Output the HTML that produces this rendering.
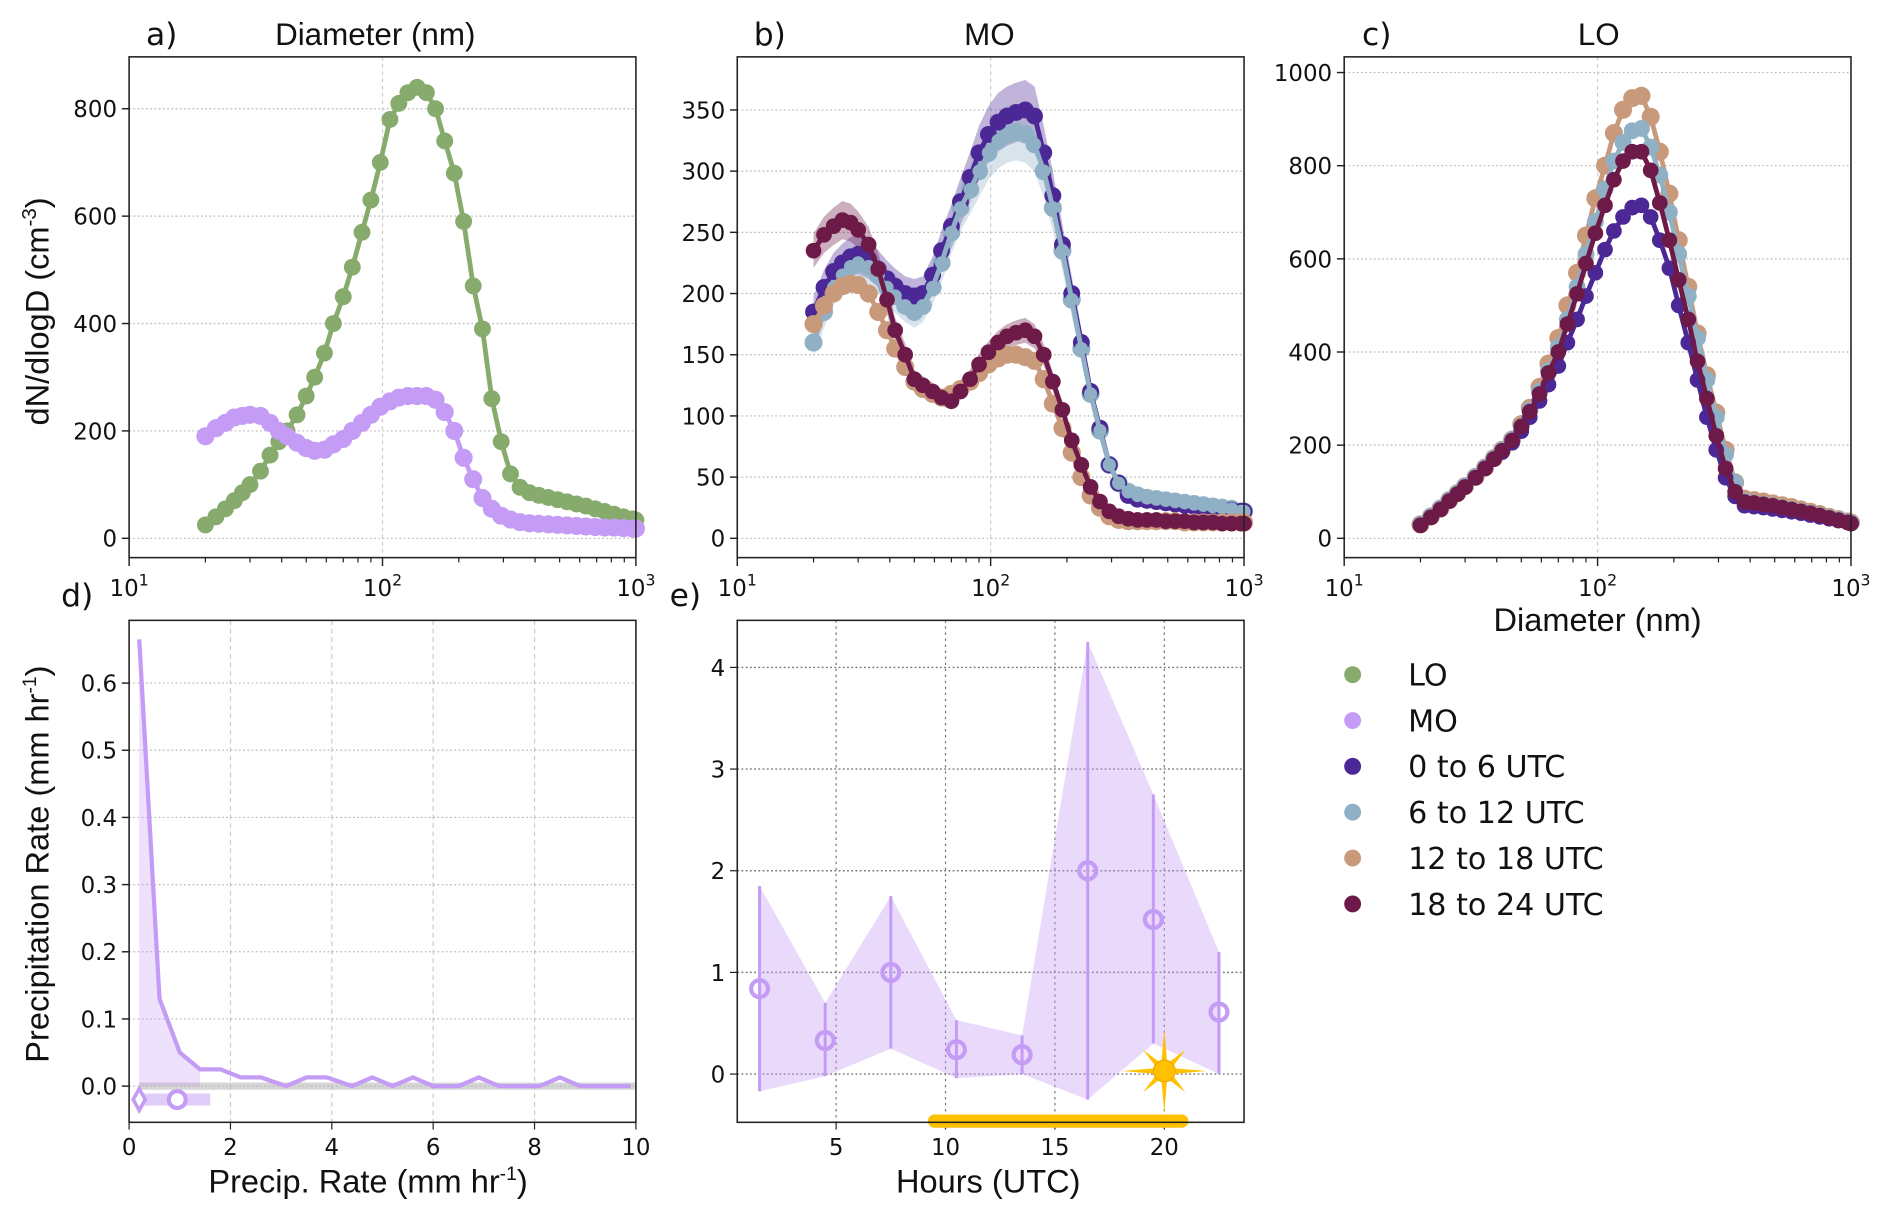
<!DOCTYPE html>
<html><head><meta charset="utf-8"><style>
html,body{margin:0;padding:0;background:#fff}
svg{display:block;font-family:"DejaVu Sans","Liberation Sans",sans-serif}
</style></head><body>
<svg id="fig" width="1892" height="1219" viewBox="0 0 1568 1010" xmlns="http://www.w3.org/2000/svg"></svg>
<script>
// ---------- data ----------
const diam = [20,22,24,26,28,30,33,36,39,42,46,50,54,59,64,70,76,83,90,98,107,116,126,137,149,162,176,192,209,228,248,270,294,320,349,380,414,451,491,535,583,635,691,753,820,893,973,1000];
const aLO = [25,40,55,70,85,100,125,155,180,200,230,265,300,345,400,450,505,570,630,700,780,810,830,840,830,800,740,680,590,470,390,260,180,120,95,85,80,76,72,68,64,60,55,50,45,40,36,34];
const aMO = [190,205,215,225,228,230,228,215,200,190,178,168,163,165,175,185,200,215,230,245,255,262,265,265,265,258,235,200,150,110,75,55,42,35,30,28,27,26,25,24,23,22,21,20,20,19,18,18];
const b06 = [185,205,218,225,230,232,228,220,212,206,200,198,200,215,235,255,275,295,315,330,340,345,348,350,345,315,280,240,200,160,120,90,60,45,35,32,31,30,29,28,27,26,25,24,23,23,22,22];
const b612 = [160,185,205,215,222,225,222,215,205,198,190,185,190,205,225,250,270,285,300,315,325,330,332,330,322,300,270,235,195,155,118,88,60,45,38,35,33,32,31,30,29,28,27,26,25,24,22,22];
const b1218 = [175,190,200,206,208,207,200,185,170,155,140,128,122,118,115,118,122,128,135,142,147,150,150,148,145,130,110,90,70,50,35,25,18,15,14,14,14,14,14,14,13,13,13,13,13,13,13,13];
const b1824 = [235,248,255,260,258,252,240,220,195,170,150,130,125,120,115,112,120,130,142,152,160,165,168,170,165,150,128,105,80,60,42,30,22,18,16,15,15,15,14,14,14,13,13,13,12,12,12,12];
const c06 = [28,45,62,80,95,110,130,150,170,185,205,230,260,295,330,370,420,470,520,570,620,660,690,710,715,690,640,580,500,420,340,260,190,130,90,70,68,66,63,60,57,54,50,46,42,38,34,32];
const c612 = [30,47,64,82,97,112,132,152,172,190,212,240,275,315,360,410,470,540,610,680,750,810,850,875,880,840,780,700,610,520,430,340,260,180,120,80,76,73,70,66,62,58,54,49,44,40,35,33];
const c1218 = [30,47,64,82,97,112,132,152,172,190,212,245,280,325,375,430,500,570,650,730,800,870,920,945,950,905,830,740,640,540,440,350,270,190,120,85,82,79,75,71,67,62,57,52,46,41,36,34];
const c1824 = [28,45,62,80,95,110,130,150,170,188,210,240,272,310,355,400,460,525,590,655,715,770,810,830,830,790,720,640,555,470,380,300,220,150,100,78,76,73,70,66,62,58,54,49,44,39,34,32];
const dX = [0.2,0.6,1.0,1.4,1.8,2.2,2.6,3.1,3.5,3.9,4.4,4.8,5.2,5.6,6.0,6.5,6.9,7.3,7.7,8.1,8.5,8.9,9.3,9.9];
const dY = [0.665,0.13,0.05,0.025,0.025,0.013,0.013,0.0,0.013,0.013,0.0,0.013,0.0,0.013,0.0,0.0,0.013,0.0,0.0,0.0,0.013,0.0,0.0,0.0];
const eHours = [1.5,4.5,7.5,10.5,13.5,16.5,19.5,22.5];
const eMean = [0.84,0.33,1.0,0.24,0.19,2.0,1.52,0.61];
const eUpper = [1.85,0.7,1.75,0.53,0.38,4.25,2.75,1.2];
const eLower = [-0.17,-0.02,0.25,-0.04,0.0,-0.25,0.3,0.0];
const aTicks = [0,200,400,600,800];
const bTicks = [0,50,100,150,200,250,300,350];
const cTicks = [0,200,400,600,800,1000];
const dYTicks = ['0.0','0.1','0.2','0.3','0.4','0.5','0.6'];
const dXTicks = [0,2,4,6,8,10];
const eYTicks = [0,1,2,3,4];
const eXTicks = [5,10,15,20];

const NS='http://www.w3.org/2000/svg';
const svg=document.getElementById('fig');
function mk(tag,attrs,parent){const e=document.createElementNS(NS,tag);for(const k in attrs)e.setAttribute(k,attrs[k]);(parent||svg).appendChild(e);return e;}
function txt(s,x,y,size,anchor,parent,extra){const t=mk('text',Object.assign({x:x,y:y,'font-size':size,'text-anchor':anchor||'middle',fill:'#111'},extra||{}),parent);t.textContent=s;return t;}

const P={a:{x0:107,x1:527,y0:47,y1:462},b:{x0:611,x1:1031,y0:47,y1:462},c:{x0:1114,x1:1534,y0:47,y1:462},d:{x0:107,x1:527,y0:514,y1:930},e:{x0:611,x1:1031,y0:514,y1:930}};
function logX(p){return d=>p.x0+(Math.log10(d)-1)*(p.x1-p.x0)/2;}
function linY(p,v0px,unit){return v=>v0px-v*unit;}

function logAxis(p,g){
  const sx=logX(p);
  for(let dec=1;dec<3;dec++)for(let m=2;m<10;m++){const x=sx(m*Math.pow(10,dec));mk('line',{x1:x,x2:x,y1:p.y1,y2:p.y1+4,stroke:'#222','stroke-width':1},g);}
  [10,100,1000].forEach((v,i)=>{const x=sx(v);
    if(i==1)mk('line',{x1:x,x2:x,y1:p.y0,y2:p.y1,stroke:'#ccc','stroke-width':1,'stroke-dasharray':'3,3'},g);
    mk('line',{x1:x,x2:x,y1:p.y1,y2:p.y1+7,stroke:'#222','stroke-width':1.2},g);
    const t=txt('10',x,p.y1+32,19,'middle',g);const s=mk('tspan',{dy:-9,'font-size':13},t);s.textContent=String(i+1);});
}
function yAxis(p,g,ticks,sy,labels){
  ticks.forEach((v,i)=>{const y=sy(+v);
    mk('line',{x1:p.x0,x2:p.x1,y1:y,y2:y,stroke:'#bbb','stroke-width':1,'stroke-dasharray':'1.5,2'},g);
    mk('line',{x1:p.x0-6,x2:p.x0,y1:y,y2:y,stroke:'#222','stroke-width':1.2},g);
    txt(labels?labels[i]:String(v),p.x0-10,y+7,19,'end',g);});
}
function frame(p,g){mk('rect',{x:p.x0,y:p.y0,width:p.x1-p.x0,height:p.y1-p.y0,fill:'none',stroke:'#222','stroke-width':1.3},g);}
function series(g,xs,ys,sx,sy,color,r,name){
  const s=mk('g',{},g);
  
  
  const pts=xs.map((x,i)=>sx(x).toFixed(1)+','+sy(ys[i]).toFixed(1)).join(' ');
  mk('polyline',{points:pts,fill:'none',stroke:color,'stroke-width':4},s);
  xs.forEach((x,i)=>{const c=mk('circle',{cx:sx(x),cy:sy(ys[i]),r:r,fill:color},s);
    
    });
}
function band(g,xs,ys,sx,sy,color,frac){
  const up=xs.map((x,i)=>sx(x)+','+sy(ys[i]*(1+frac))).join(' ');
  const lo=xs.map((x,i)=>sx(x)+','+sy(ys[i]*(1-frac))).reverse().join(' ');
  mk('polygon',{points:up+' '+lo,fill:color,opacity:0.35},g);
}

// ---- panel a ----
(function(){const p=P.a;const g=mk('g',{});
 
 
 const sx=logX(p),sy=linY(p,446,0.445);
 yAxis(p,g,aTicks,sy);logAxis(p,g);
 series(g,diam,aLO,sx,sy,'#86ab6d',7,'lo-series');
 series(g,diam,aMO,sx,sy,'#c49cf5',7.5,'mo-series');
 frame(p,g);
 txt('a)',134,37,26,'middle',g);txt('Diameter (nm)',311,37,26,'middle',g,{'font-family':'Liberation Sans, sans-serif'});
 const yl=txt('dN/dlogD (cm',0,0,27,'middle',g,{transform:'translate(40,258) rotate(-90)','font-family':'Liberation Sans, sans-serif'});
 const s1=mk('tspan',{dy:-10,'font-size':17},yl);s1.textContent='-3';const s2=mk('tspan',{dy:10},yl);s2.textContent=')';
})();

// ---- panel b ----
(function(){const p=P.b;const g=mk('g',{});
 
 
 const sx=logX(p),sy=linY(p,446,1.0143);
 yAxis(p,g,bTicks,sy);logAxis(p,g);
 band(g,diam,b06,sx,sy,'#4b2896',0.07);band(g,diam,b612,sx,sy,'#8fb0c5',0.07);band(g,diam,b1824,sx,sy,'#6e1a48',0.06);
 series(g,diam,b612,sx,sy,'#8fb0c5',7.5,'mo-6-12-series');
 series(g,diam,b06,sx,sy,'#4b2896',7,'mo-0-6-series');
 series(g,diam,b612.slice(),sx,sy,'#8fb0c5',5.5,'mo-6-12-overlay');
 series(g,diam,b1218,sx,sy,'#c9997c',7.5,'mo-12-18-series');
 series(g,diam,b1824,sx,sy,'#6e1a48',6.5,'mo-18-24-series');
 frame(p,g);
 txt('b)',638,37,26,'middle',g);txt('MO',820,37,26,'middle',g,{'font-family':'Liberation Sans, sans-serif'});
})();

// ---- panel c ----
(function(){const p=P.c;const g=mk('g',{});
 
 
 const sx=logX(p),sy=linY(p,446,0.386);
 yAxis(p,g,cTicks,sy);logAxis(p,g);
 series(g,diam,c1218,sx,sy,'#c9997c',7.5,'lo-12-18-series');
 series(g,diam,c612,sx,sy,'#8fb0c5',7,'lo-6-12-series');
 series(g,diam,c06,sx,sy,'#4b2896',6.5,'lo-0-6-series');
 series(g,diam,c1824,sx,sy,'#6e1a48',6.5,'lo-18-24-series');
 frame(p,g);
 txt('c)',1141,37,26,'middle',g);txt('LO',1325,37,26,'middle',g,{'font-family':'Liberation Sans, sans-serif'});
 txt('Diameter (nm)',1324,523,27,'middle',g,{'font-family':'Liberation Sans, sans-serif'});
})();

// ---- panel d ----
(function(){const p=P.d;const g=mk('g',{});
 
 
 const sx=v=>p.x0+v*42,sy=linY(p,900,556.7);
 dXTicks.forEach(v=>{const x=sx(v);if(v>0&&v<10)mk('line',{x1:x,x2:x,y1:p.y0,y2:p.y1,stroke:'#ccc','stroke-width':1,'stroke-dasharray':'4,3'},g);
   mk('line',{x1:x,x2:x,y1:p.y1,y2:p.y1+6,stroke:'#222'},g);txt(String(v),x,p.y1+27,19,'middle',g);});
 yAxis(p,g,dYTicks,sy);
 mk('rect',{x:sx(0.2),y:sy(0)-3,width:sx(10)-sx(0.2),height:6,fill:'#bbb',opacity:0.6},g);
 const n=4;const fillPts=dX.slice(0,n).map((x,i)=>sx(x)+','+sy(dY[i])).join(' ')+' '+sx(dX[n-1])+','+sy(0)+' '+sx(dX[0])+','+sy(0);
 mk('polygon',{points:fillPts,fill:'#c49cf5',opacity:0.3},g);
 const l=mk('polyline',{points:dX.map((x,i)=>sx(x)+','+sy(dY[i])).join(' '),fill:'none',stroke:'#c49cf5','stroke-width':3.5},g);
 
 
 mk('rect',{x:sx(0.2),y:sy(-0.02)-5,width:sx(1.6)-sx(0.2),height:10,fill:'#c49cf5',opacity:0.5},g);
 mk('polygon',{points:`${sx(0.2)},${sy(-0.02)-9} ${sx(0.2)+5},${sy(-0.02)} ${sx(0.2)},${sy(-0.02)+9} ${sx(0.2)-5},${sy(-0.02)}`,fill:'#fff',stroke:'#c49cf5','stroke-width':3},g);
 mk('circle',{cx:sx(0.95),cy:sy(-0.02),r:7,fill:'#fff',stroke:'#c49cf5','stroke-width':3.5},g);
 frame(p,g);
 txt('d)',64,502,26,'middle',g);
 txt('',305,988,27,'middle',g,{'font-family':'Liberation Sans, sans-serif'}).innerHTML='Precip. Rate (mm hr<tspan dy="-10" font-size="16">-1</tspan><tspan dy="10">)</tspan>';
 const yl=txt('',0,0,27,'middle',g,{transform:'translate(40,716) rotate(-90)','font-family':'Liberation Sans, sans-serif'});
 yl.innerHTML='Precipitation Rate (mm hr<tspan dy="-10" font-size="16">-1</tspan><tspan dy="10">)</tspan>';
})();

// ---- panel e ----
(function(){const p=P.e;const g=mk('g',{});
 
 
 const sx=v=>602.3+v*18.13,sy=linY(p,890,84.25);
 eXTicks.forEach(v=>{const x=sx(v);mk('line',{x1:x,x2:x,y1:p.y0,y2:p.y1,stroke:'#777','stroke-width':1,'stroke-dasharray':'2,3'},g);
   mk('line',{x1:x,x2:x,y1:p.y1,y2:p.y1+6,stroke:'#222'},g);txt(String(v),x,p.y1+27,19,'middle',g);});
 eYTicks.forEach(v=>{const y=sy(v);mk('line',{x1:p.x0,x2:p.x1,y1:y,y2:y,stroke:'#777','stroke-width':1.2,'stroke-dasharray':'1.5,2'},g);
   mk('line',{x1:p.x0-6,x2:p.x0,y1:y,y2:y,stroke:'#222'},g);txt(String(v),p.x0-10,y+7,19,'end',g);});
 const up=eHours.map((h,i)=>sx(h)+','+sy(eUpper[i])).join(' ');
 const lo=eHours.map((h,i)=>sx(h)+','+sy(eLower[i])).reverse().join(' ');
 const poly=mk('polygon',{points:up+' '+lo,fill:'#c49cf5',opacity:0.38},g);
 
 
 eHours.forEach((h,i)=>{
   mk('line',{x1:sx(h),x2:sx(h),y1:sy(eUpper[i]),y2:sy(eLower[i]),stroke:'#c49cf5','stroke-width':2.5},g);
   const c=mk('circle',{cx:sx(h),cy:sy(eMean[i]),r:7,fill:'none',stroke:'#c49cf5','stroke-width':3.5},g);
   
   });
 const sunX=sx(20),sunY=sy(0.03);const sg=mk('g',{},g);
 
 
 for(let k=0;k<8;k++){const a=k*Math.PI/4,L=(k%2==0)?35:25;
   mk('polygon',{points:`${sunX+Math.cos(a)*L},${sunY+Math.sin(a)*L} ${sunX+Math.cos(a+0.25)*9},${sunY+Math.sin(a+0.25)*9} ${sunX+Math.cos(a-0.25)*9},${sunY+Math.sin(a-0.25)*9}`,fill:'#ffc000'},sg);}
 mk('circle',{cx:sunX,cy:sunY,r:9,fill:'#ffc000',stroke:'#f0a800','stroke-width':1},sg);
 const bar=mk('line',{x1:sx(9.5),x2:sx(20.8),y1:929,y2:929,stroke:'#ffc000','stroke-width':11,'stroke-linecap':'round'},g);
 
 
 frame(p,g);
 txt('e)',568,502,26,'middle',g);
 txt('Hours (UTC)',819,988,27,'middle',g,{'font-family':'Liberation Sans, sans-serif'});
})();

// ---- legend ----
const legLabels=['LO','MO','0 to 6 UTC','6 to 12 UTC','12 to 18 UTC','18 to 24 UTC'];
const legColors=['#86ab6d','#c49cf5','#4b2896','#8fb0c5','#c9997c','#6e1a48'];
const lg=mk('g',{});


legLabels.forEach((s,i)=>{const y=559+i*38;const e=mk('g',{},lg);
 
 
 mk('circle',{cx:1121,cy:y,r:7,fill:legColors[i]},e);
 txt(s,1167,y+9,25,'start',e);});
</script>
</body></html>
